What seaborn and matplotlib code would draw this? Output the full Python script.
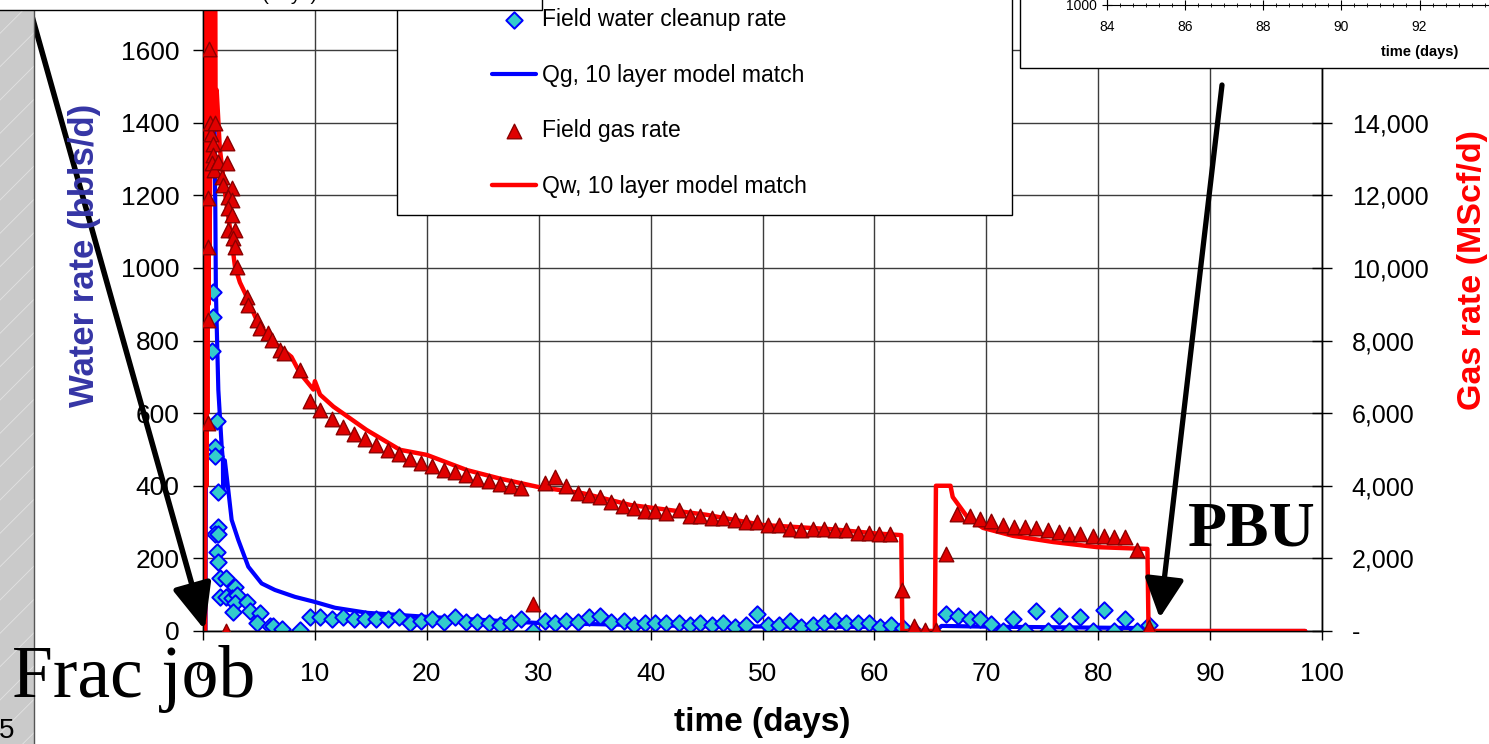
import matplotlib
matplotlib.use("Agg")
import matplotlib.pyplot as plt
import matplotlib.ticker as mticker
from matplotlib.patches import Rectangle
from matplotlib.lines import Line2D
import pandas as pd
import seaborn as sns

W, H = 1489, 744


def fx(px):
    """pixel from left -> figure fraction"""
    return px / W


def fy(py):
    """pixel from top -> figure fraction"""
    return 1 - py / H


# ---- data --------------------------------------------------------------
water_days = [0.83, 0.92, 0.92, 1.07, 1.07, 1.22, 1.37, 1.31, 1.10, 1.35, 1.22, 1.37,
              1.5, 2.1, 2.86, 1.5, 2.1, 2.6, 3.0, 2.86, 2.7, 3.9, 4.2, 5.1, 4.8, 6.0,
              6.3, 7.1, 8.7, 9.6, 10.5, 11.5, 12.55, 13.5, 14.5, 15.5, 16.5, 17.5, 18.5,
              19.5, 20.5, 21.5, 22.5, 23.5, 24.5, 25.6, 26.5, 27.5, 28.4, 29.5, 30.6,
              31.5, 32.4, 33.5, 34.5, 35.5, 36.5, 37.6, 38.5, 39.5, 40.4, 41.4, 42.5,
              43.5, 44.4, 45.5, 46.5, 47.5, 48.5, 49.5, 50.5, 51.5, 52.5, 53.4, 54.5,
              55.5, 56.5, 57.5, 58.5, 59.5, 60.5, 61.5, 62.6, 63.5, 66.4, 67.5, 68.5,
              69.4, 70.4, 71.5, 72.4, 73.5, 74.4, 75.5, 76.5, 77.4, 78.4, 79.5, 80.5,
              81.4, 82.4, 83.5, 84.5]
water_rate = [772, 866, 934, 508, 482, 579, 382, 287, 268, 268, 218, 191,
              146, 146, 122, 94, 94, 91, 99, 77, 53, 81, 56, 49, 22, 14,
              14, 5, 3, 38, 38, 32, 38, 32, 32, 32, 32, 38, 21,
              28, 32, 26, 38, 26, 26, 21, 17, 21, 34, 1, 28,
              21, 28, 26, 38, 40, 26, 27, 17, 23, 23, 23, 23,
              17, 23, 17, 23, 12, 17, 47, 17, 17, 27, 12, 17,
              23, 27, 23, 22, 23, 12, 17, 8, 0, 47, 41, 32,
              33, 18, 1, 32, 1, 56, 1, 41, 1, 38, 1, 58,
              1, 32, 1, 17]

gas_days = [0.42, 0.42, 0.42, 0.47, 0.57, 0.63, 0.75, 0.85, 0.9, 0.8, 1.0, 1.07,
            1.37, 2.12, 2.12, 1.67, 1.8, 2.56, 2.26, 2.56, 2.26, 2.56, 2.26, 2.9,
            2.7, 2.86, 2.1, 3.0, 3.9, 4.05, 4.8, 5.1, 5.84, 6.13, 6.9, 7.2, 8.7,
            9.56, 10.5, 11.5, 12.55, 13.5, 14.5, 15.5, 16.5, 17.5, 18.5, 19.5, 20.5,
            21.5, 22.5, 23.5, 24.5, 25.6, 26.5, 27.5, 28.4, 29.5, 30.6, 31.5, 32.4,
            33.5, 34.5, 35.5, 36.5, 37.5, 38.5, 39.5, 40.4, 41.4, 42.5, 43.5, 44.4,
            45.5, 46.5, 47.5, 48.5, 49.5, 50.5, 51.5, 52.5, 53.4, 54.5, 55.5, 56.5,
            57.5, 58.5, 59.5, 60.4, 61.4, 62.5, 63.5, 64.5, 65.5, 66.4, 67.4, 68.5,
            69.4, 70.4, 71.5, 72.5, 73.5, 74.4, 75.5, 76.5, 77.4, 78.4, 79.5, 80.5,
            81.4, 82.4, 83.5, 84.5]
gas_rate = [5720, 8560, 10580, 11920, 16020, 13980, 13700, 13400, 13100, 12900, 12700, 13980,
            12920, 13430, 12880, 12510, 12280, 12190, 11960, 11870, 11650, 11460, 11050, 11050,
            10820, 10580, 0, 10030, 9210, 8980, 8560, 8340, 8200, 8010, 7740, 7650, 7200,
            6340, 6090, 5830, 5610, 5430, 5290, 5120, 4980, 4870, 4740, 4640, 4540,
            4430, 4390, 4300, 4180, 4140, 4050, 4000, 3940, 740, 4080, 4250, 4000,
            3810, 3750, 3700, 3560, 3440, 3400, 3310, 3310, 3260, 3340, 3170, 3170,
            3100, 3100, 3060, 3010, 3010, 2920, 2920, 2820, 2780, 2820, 2820, 2780,
            2780, 2710, 2710, 2660, 2660, 1130, 150, 20, 20, 2120, 3220, 3170,
            3080, 3040, 2920, 2870, 2870, 2830, 2780, 2730, 2670, 2670, 2620, 2620,
            2580, 2580, 2230, 120]

# blue model curve (left axis, bbl/d)
qg_model_days = [0, 0.22, 0.4, 0.7, 1.0, 1.05, 1.1, 1.15, 1.22, 1.37, 1.67, 1.78, 1.8,
                 1.95, 2.26, 2.56, 3.15, 4.05, 5.24, 6.43, 8.22, 10.0, 11.8, 14.7, 20,
                 30, 38, 45, 62.4, 62.5, 65.5, 66.0, 70, 84.4, 84.5, 98.5]
qg_model_rate = [0, 0, 1800, 2400, 2100, 1279, 1169, 939, 848, 664, 508, 470, 380,
                 470, 388, 306, 251, 177, 131, 113, 94, 80, 64, 50, 39,
                 22, 17, 13, 11, 0, 0, 14, 12, 8, 0, 0]

# red model curve (right axis, MScf/d)
qw_model_days = [0, 0.2, 0.22, 0.3, 0.34, 0.38, 0.45, 0.5, 0.54, 0.58, 0.63, 0.68, 0.74,
                 0.8, 0.85, 0.92, 1.0, 1.05, 1.12, 1.22, 1.5, 2.0, 2.5, 2.86, 3.3, 3.75,
                 4.8, 6.1, 7.9, 8.67, 9.86, 10.0, 10.46, 11.65, 14.6, 17.6, 20.0, 23.6,
                 26.5, 29.9, 34.0, 38.2, 45, 50, 56.3, 60, 62.4, 62.5, 65.4, 65.5, 66.8,
                 67.0, 68.3, 69.7, 72.4, 76, 79.9, 84.4, 84.5, 98.5]
qw_model_rate = [0, 0, 24000, 4000, 24000, 6000, 24000, 9000, 24000, 10500, 12100, 24000, 12700,
                 13300, 24000, 13800, 14200, 24000, 14500, 14900, 13300, 12000, 10900, 10030, 9600, 9310,
                 8560, 8010, 7550, 7100, 6650, 6880, 6510, 6180, 5540, 4990, 4850, 4430,
                 4200, 3970, 3790, 3470, 3200, 2920, 2800, 2690, 2640, 0, 0, 4000, 4000,
                 3690, 3140, 2840, 2620, 2450, 2310, 2260, 0, 0]

water_df = pd.DataFrame({"t": water_days, "q": water_rate})
gas_df = pd.DataFrame({"t": gas_days, "q": gas_rate})
qg_df = pd.DataFrame({"t": qg_model_days, "q": qg_model_rate})
qw_df = pd.DataFrame({"t": qw_model_days, "q": qw_model_rate})

# ---- style ----------------------------------------------------------------
sns.set_style("white")
plt.rcParams["font.family"] = ["Liberation Sans", "DejaVu Sans"]
plt.rcParams["hatch.linewidth"] = 0.6
plt.rcParams["text.color"] = "black"
plt.rcParams["axes.labelcolor"] = "black"
plt.rcParams["xtick.color"] = "black"
plt.rcParams["ytick.color"] = "black"

fig = plt.figure(figsize=(W / 100, H / 100), dpi=100)
ax = fig.add_axes([fx(203), fy(631), fx(1322) - fx(203), (631 + 22.6) / H])
ax2 = ax.twinx()

# water side
sns.scatterplot(data=water_df, x="t", y="q", ax=ax, marker="D", s=70,
                color="#33cccc", edgecolor="#0000ff", linewidth=1.4, zorder=3,
                label="Field water cleanup rate")
sns.lineplot(data=qg_df, x="t", y="q", ax=ax, color="#0000ff", linewidth=3,
             sort=False, estimator=None, zorder=2, label="Qg, 10 layer model match")

# gas side
sns.lineplot(data=qw_df, x="t", y="q", ax=ax2, color="#ff0000", linewidth=3.2,
             sort=False, estimator=None, zorder=2, label="Qw, 10 layer model match")
sns.scatterplot(data=gas_df, x="t", y="q", ax=ax2, marker="^", s=110,
                color="#e00000", edgecolor="#8b0000", linewidth=1.0, zorder=3,
                label="Field gas rate")

for a in (ax, ax2):
    if a.get_legend() is not None:
        a.get_legend().remove()
    a.set_xlabel("")
    a.set_ylabel("")

ax.set_xlim(0, 100)
ax.set_ylim(0, 1800)
ax2.set_ylim(0, 18000)
ax.set_xticks(range(0, 101, 10))
ax.set_yticks(range(0, 1601, 200))
ax2.set_yticks(range(0, 16001, 2000))
ax2.yaxis.set_major_formatter(
    mticker.FuncFormatter(lambda v, p: "-" if v == 0 else f"{v:,.0f}"))

ax.grid(True, color="#3c3c3c", linewidth=1)
ax2.grid(False)
ax.tick_params(axis="x", bottom=True, direction="out", length=6.5, width=1,
               pad=16, labelsize=19, colors="black")
ax.tick_params(axis="y", left=True, direction="out", length=7, width=1,
               pad=10, labelsize=19, colors="black")
ax2.tick_params(axis="y", right=True, direction="inout", length=15, width=1,
                pad=14, labelsize=18, colors="black")
for a in (ax, ax2):
    for sp in a.spines.values():
        sp.set_color("black")
        sp.set_linewidth(1)

fig.text(fx(762), fy(722), "time (days)", ha="center", va="center",
         fontsize=24, fontweight="bold")
fig.text(fx(85), fy(255), "Water rate (bbls/d)", ha="center", va="center",
         rotation=90, fontsize=25, fontweight="bold", color="#3535a5")
fig.text(fx(1473), fy(270), "Gas rate (MScf/d)", ha="center", va="center",
         rotation=90, fontsize=24.5, fontweight="bold", color="#ff0000")

# ---- legend (Excel-like fixed box) ---------------------------------------
h1, l1 = ax.get_legend_handles_labels()
h2, l2 = ax2.get_legend_handles_labels()
hmap = dict(zip(l1 + l2, h1 + h2))
order = ["Field water cleanup rate", "Qg, 10 layer model match",
         "Field gas rate", "Qw, 10 layer model match"]
fig.add_artist(Rectangle((fx(397), fy(215)), fx(1012) - fx(397), 260 / H,
                         transform=fig.transFigure, facecolor="white",
                         edgecolor="black", linewidth=1, zorder=4))
leg = fig.legend([hmap[k] for k in order], order, loc="center left",
                 bbox_to_anchor=(fx(492), fy(103)), frameon=False,
                 fontsize=16.5, handlelength=1.9, handletextpad=0.28,
                 labelspacing=1.42, borderpad=0, borderaxespad=0)
leg.set_zorder(6)

# ---- inset boxes cut off at the top of the slide ------------------------
fig.add_artist(Rectangle((fx(-10), fy(10)), fx(552), 40 / H,
                         transform=fig.transFigure, facecolor="white",
                         edgecolor="black", linewidth=1, zorder=4))
fig.text(fx(268), fy(0), "time (days)", ha="center", va="baseline",
         fontsize=14, zorder=7)

fig.add_artist(Rectangle((fx(1020), fy(68)), fx(520), 100 / H,
                         transform=fig.transFigure, facecolor="white",
                         edgecolor="black", linewidth=1, zorder=4))
ax_in = fig.add_axes([fx(1107), fy(5), fx(1732) - fx(1107), 100 / H])
ax_in.set_zorder(5)
ax_in.set_xlim(84, 100)
ax_in.set_ylim(1000, 2000)
ax_in.set_xticks(range(84, 101, 2))
ax_in.xaxis.set_minor_locator(mticker.AutoMinorLocator(6))
ax_in.set_yticks([1000])
ax_in.tick_params(axis="both", which="major", direction="inout", length=7,
                  width=0.8, labelsize=10, pad=7, bottom=True, left=True)
ax_in.tick_params(axis="x", which="minor", direction="inout", length=3.5,
                  width=0.6, bottom=True)
ax_in.tick_params(axis="y", pad=4)
ax_in.set_xlabel("time (days)", fontsize=10.5, fontweight="bold", labelpad=8)
for sp in ax_in.spines.values():
    sp.set_color("black")
    sp.set_linewidth(0.8)

# ---- slide decorations ----------------------------------------------------
fig.add_artist(Rectangle((0, 0), fx(34), 1, transform=fig.transFigure,
                         facecolor="#cacaca", edgecolor="#e2e2e2", hatch="/",
                         linewidth=0, zorder=1))
fig.add_artist(Line2D([fx(34), fx(34)], [0, 1], transform=fig.transFigure,
                      color="#555555", linewidth=1, zorder=1))
fig.text(fx(14), fy(731), "5", ha="right", va="center", fontsize=20, zorder=2)

ax2.annotate("", xy=(0.15, 3), xycoords=ax.transData,
             xytext=(19, H + 30), textcoords="figure pixels",
             arrowprops=dict(arrowstyle="-|>,head_length=1.4,head_width=0.6",
                             mutation_scale=20, color="black", lw=4,
                             shrinkA=0, shrinkB=0),
             annotation_clip=False)
ax2.annotate("", xy=(85.5, 36), xycoords=ax.transData,
             xytext=(1222, H - 85), textcoords="figure pixels",
             arrowprops=dict(arrowstyle="-|>,head_length=1.2,head_width=0.6",
                             mutation_scale=20, color="black", lw=3.8,
                             shrinkA=0, shrinkB=0),
             annotation_clip=False)

fig.text(fx(12), fy(697), "Frac job", ha="left", va="baseline",
         fontsize=53, family="Liberation Serif", color="black", zorder=8)
fig.text(fx(1188), fy(545), "PBU", ha="left", va="baseline",
         fontsize=46, fontweight="bold", family="Liberation Serif",
         color="black", zorder=8)

fig.savefig("out.png", dpi=100)
